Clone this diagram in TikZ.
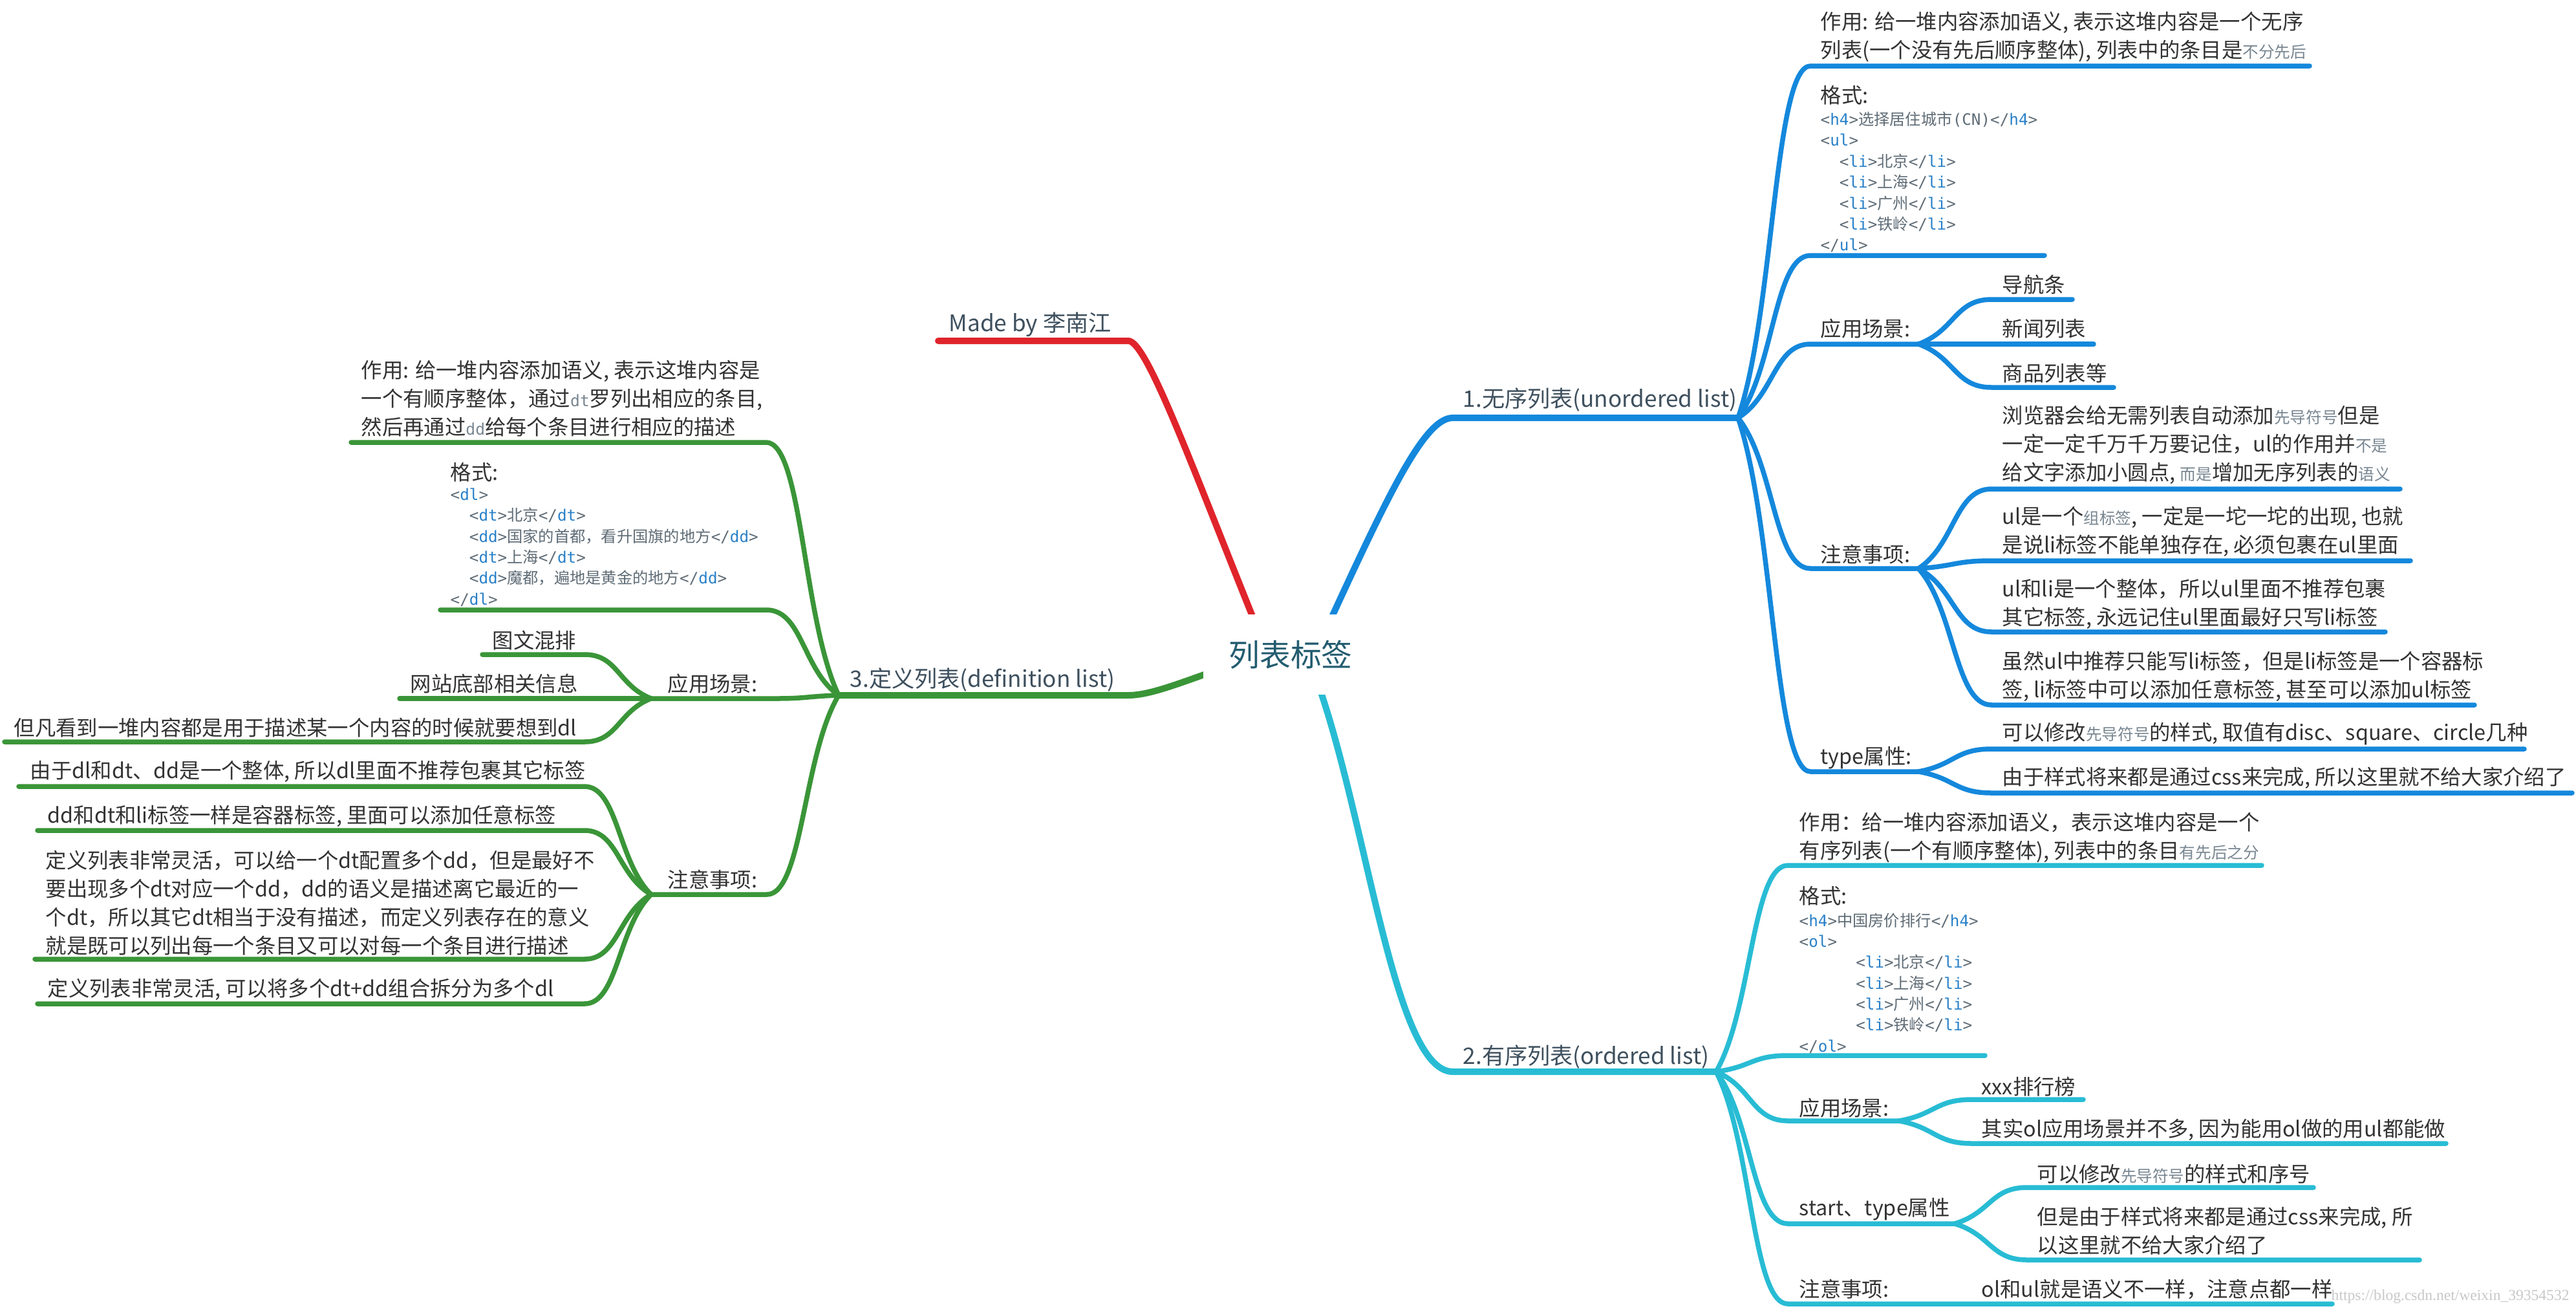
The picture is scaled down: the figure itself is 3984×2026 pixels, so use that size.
\documentclass[tikz,border=0pt]{standalone}
\usepackage{fontspec}
\setmainfont{Noto Sans CJK SC}
\newfontfamily\monofont{DejaVu Sans Mono}
\newfontfamily\wmfont{Liberation Serif}
\usetikzlibrary{calc}
\pgfdeclarelayer{paper}
\pgfdeclarelayer{bglayer}
\pgfsetlayers{paper,bglayer,main}
\definecolor{cred}{RGB}{224,36,43}
\definecolor{cblue}{RGB}{20,136,220}
\definecolor{ccyan}{RGB}{40,188,212}
\definecolor{cgreen}{RGB}{58,149,56}
\definecolor{ctext}{RGB}{51,51,51}
\definecolor{clabel}{RGB}{62,80,94}
\definecolor{ccenter}{RGB}{35,92,112}
\definecolor{sgray}{RGB}{120,134,145}
\definecolor{kwblue}{RGB}{40,128,200}
\definecolor{cdgray}{RGB}{95,108,118}
\definecolor{wmgray}{RGB}{200,200,200}
\newcommand\sg[1]{{\fontsize{7}{7}\selectfont\color{sgray}#1}}
\newcommand\sm[1]{{\monofont\fontsize{7}{7}\selectfont\color{sgray}#1}}
\newcommand\tg[1]{{\monofont\color{cdgray}#1}}
\newcommand\kw[1]{{\monofont\color{kwblue}#1}}
\newcommand\ct[1]{{\color{cdgray}#1}}
\newcommand\ot[1]{\tg{<}\kw{#1}\tg{>}}
\newcommand\clt[1]{\tg{</}\kw{#1}\tg{>}}
% #1 style, #2 name, #3 parent, #4 attach point, #5 end point
\newcommand\branch[5]{\coordinate (#2a) at (#4);\coordinate (#2e) at (#5);
  \draw[#1] let \p1=(#3), \p2=(#2a) in (#3) .. controls ({0.5*\x1+0.5*\x2},{0.7*\y1+0.3*\y2}) and ({0.5*\x1+0.5*\x2},\y2) .. (#2a) -- (#2e);}
\tikzset{
  mainln/.style={line width=1mm, line cap=round, line join=round},
  subln/.style={line width=0.75mm, line cap=round, line join=round},
  txt/.style={inner sep=0pt, anchor=west, text=ctext, font=\fontsize{9.2}{12.5}\selectfont, align=left},
  codetxt/.style={inner sep=0pt, anchor=west, font=\fontsize{6.9}{9.2}\selectfont, align=left},
  lbl/.style={inner sep=0pt, anchor=west, text=clabel, font=\fontsize{10}{12}\selectfont},
}
\begin{document}
\begin{tikzpicture}[x=0.01cm,y=-0.01cm]
\useasboundingbox (0,0) rectangle (3984,2026);
\begin{pgfonlayer}{paper}
\fill[white] (0,0) rectangle (3984,2026);
\end{pgfonlayer}

% central topic
\node[fill=white, inner sep=0pt, minimum width=2.7cm, minimum height=1.24cm, text=ccenter, font=\fontsize{13.6}{16}\selectfont] (ctr) at (1996,1012) {列表标签};

% ---------- main branch labels ----------
\node[lbl] (r0) at (1467,502) {Made by 李南江};
\node[lbl] (b0) at (2262,618) {1.无序列表(unordered list)};
\node[lbl] (c0) at (2262,1634) {2.有序列表(ordered list)};
\node[lbl] (g0) at (1314,1051) {3.定义列表(definition list)};

\coordinate (r0a) at (1745,527); \coordinate (r0e) at (1451,527);
\coordinate (b0a) at (2247,646); \coordinate (bh) at (2688,646);
\coordinate (c0a) at (2247,1657); \coordinate (ch) at (2654,1657);
\coordinate (g0a) at (1745,1075); \coordinate (gh) at (1297,1075);

% ---------- blue texts ----------
\node[txt] (b1) at (2815,56.5) {作用: 给一堆内容添加语义, 表示这堆内容是一个无序\\列表(一个没有先后顺序整体), 列表中的条目是\sg{不分先后}};
\node[txt] (b2) at (2815,147) {格式:};
\node[codetxt] (b2c) at (2815,281.5) {\ot{h4}\ct{选择居住城市}\tg{(CN)}\clt{h4}\\
\ot{ul}\\
\hspace*{8.3pt}\ot{li}\ct{北京}\clt{li}\\
\hspace*{8.3pt}\ot{li}\ct{上海}\clt{li}\\
\hspace*{8.3pt}\ot{li}\ct{广州}\clt{li}\\
\hspace*{8.3pt}\ot{li}\ct{铁岭}\clt{li}\\
\clt{ul}};
\node[txt] (b3) at (2815,508) {应用场景:};
\node[txt] (b31) at (3096,440) {导航条};
\node[txt] (b32) at (3096,508) {新闻列表};
\node[txt] (b33) at (3096,577) {商品列表等};
\node[txt] (b4) at (2815,857) {注意事项:};
\node[txt] (b41) at (3096,687.5) {浏览器会给无需列表自动添加\sg{先导符号}但是\\一定一定千万千万要记住，ul的作用并\sg{不是}\\给文字添加小圆点, \sg{而是}增加无序列表的\sg{语义}};
\node[txt] (b42) at (3096,821.5) {ul是一个\sg{组标签}, 一定是一坨一坨的出现, 也就\\是说li标签不能单独存在, 必须包裹在ul里面};
\node[txt] (b43) at (3096,933.5) {ul和li是一个整体，所以ul里面不推荐包裹\\其它标签, 永远记住ul里面最好只写li标签};
\node[txt] (b44) at (3096,1046) {虽然ul中推荐只能写li标签，但是li标签是一个容器标\\签, li标签中可以添加任意标签, 甚至可以添加ul标签};
\node[txt] (b5) at (2815,1172) {type属性:};
\node[txt] (b51) at (3096,1135) {可以修改\sg{先导符号}的样式, 取值有disc、square、circle几种};
\node[txt] (b52) at (3096,1203) {由于样式将来都是通过css来完成, 所以这里就不给大家介绍了};

% ---------- cyan texts ----------
\node[txt] (c1) at (2782,1295) {作用：给一堆内容添加语义，表示这堆内容是一个\\有序列表(一个有顺序整体), 列表中的条目\sg{有先后之分}};
\node[txt] (c2) at (2782,1385) {格式:};
\node[codetxt] (c2c) at (2782,1520) {\ot{h4}\ct{中国房价排行}\clt{h4}\\
\ot{ol}\\
\hspace*{24.9pt}\ot{li}\ct{北京}\clt{li}\\
\hspace*{24.9pt}\ot{li}\ct{上海}\clt{li}\\
\hspace*{24.9pt}\ot{li}\ct{广州}\clt{li}\\
\hspace*{24.9pt}\ot{li}\ct{铁岭}\clt{li}\\
\clt{ol}};
\node[txt] (c3) at (2782,1713) {应用场景:};
\node[txt] (c31) at (3064,1680) {xxx排行榜};
\node[txt] (c32) at (3064,1747) {其实ol应用场景并不多, 因为能用ol做的用ul都能做};
\node[txt] (c4) at (2782,1870) {start、type属性};
\node[txt] (c41) at (3150,1815) {可以修改\sg{先导符号}的样式和序号};
\node[txt] (c42) at (3150,1903.5) {但是由于样式将来都是通过css来完成, 所\\以这里就不给大家介绍了};
\node[txt] (c5) at (2782,1993) {注意事项:};
\node[txt] (c51) at (3064,1993) {ol和ul就是语义不一样，注意点都一样};

% ---------- green texts ----------
\node[txt] (g1) at (558,616.5) {作用: 给一堆内容添加语义, 表示这堆内容是\\一个有顺序整体，通过\sm{dt}罗列出相应的条目,\\然后再通过\sm{dd}给每个条目进行相应的描述};
\node[txt] (g2) at (696,730) {格式:};
\node[codetxt] (g2c) at (696,846) {\ot{dl}\\
\hspace*{8.3pt}\ot{dt}\ct{北京}\clt{dt}\\
\hspace*{8.3pt}\ot{dd}\ct{国家的首都，看升国旗的地方}\clt{dd}\\
\hspace*{8.3pt}\ot{dt}\ct{上海}\clt{dt}\\
\hspace*{8.3pt}\ot{dd}\ct{魔都，遍地是黄金的地方}\clt{dd}\\
\clt{dl}};
\node[txt] (g3) at (1032,1057) {应用场景:};
\node[txt] (g31) at (761,990) {图文混排};
\node[txt] (g32) at (634,1057) {网站底部相关信息};
\node[txt] (g33) at (21,1125) {但凡看到一堆内容都是用于描述某一个内容的时候就要想到dl};
\node[txt] (g4) at (1032,1360) {注意事项:};
\node[txt] (g41) at (46,1193) {由于dl和dt、dd是一个整体, 所以dl里面不推荐包裹其它标签};
\node[txt] (g42) at (73,1262) {dd和dt和li标签一样是容器标签, 里面可以添加任意标签};
\node[txt] (g43) at (70,1396) {定义列表非常灵活，可以给一个dt配置多个dd，但是最好不\\要出现多个dt对应一个dd，dd的语义是描述离它最近的一\\个dt，所以其它dt相当于没有描述，而定义列表存在的意义\\就是既可以列出每一个条目又可以对每一个条目进行描述};
\node[txt] (g44) at (73,1530) {定义列表非常灵活, 可以将多个dt+dd组合拆分为多个dl};

% watermark
\node[anchor=west, inner sep=0pt, font=\wmfont\fontsize{6.7}{8}\selectfont, text=wmgray] (wm) at (3605,2005) {https://blog.csdn.net/weixin\_39354532};

% ---------- connectors ----------
\begin{pgfonlayer}{bglayer}
\draw[mainln,cred] ($(ctr.center)+(-35,0)$) .. controls (1850,740) and (1775,527) .. (r0a) -- (r0e);
\draw[mainln,cblue] ($(ctr.center)+(37,0)$) .. controls (2140,780) and (2200,646) .. (b0a) -- (bh);
\draw[mainln,ccyan] ($(ctr.center)+(25,0)$) .. controls (2110,1220) and (2150,1657) .. (c0a) -- (ch);
\draw[mainln,cgreen] ($(ctr.center)+(-40,0)$) .. controls (1860,1040) and (1790,1075) .. (g0a) -- (gh);

% blue
\branch{subln,cblue}{b1}{bh}{2800,102}{3572,102}
\branch{subln,cblue}{b2}{bh}{2800,395}{3162,395}
\branch{subln,cblue}{b3}{bh}{2800,532}{2967,532}
\branch{subln,cblue}{b31}{b3e}{3080,463}{3205,463}
\branch{subln,cblue}{b32}{b3e}{3080,532}{3238,532}
\branch{subln,cblue}{b33}{b3e}{3080,599}{3269,599}
\branch{subln,cblue}{b4}{bh}{2800,879}{2967,879}
\branch{subln,cblue}{b41}{b4e}{3080,756}{3712,756}
\branch{subln,cblue}{b42}{b4e}{3080,867}{3728,867}
\branch{subln,cblue}{b43}{b4e}{3080,977}{3689,977}
\branch{subln,cblue}{b44}{b4e}{3080,1090}{3827,1090}
\branch{subln,cblue}{b5}{bh}{2800,1193}{2967,1193}
\branch{subln,cblue}{b51}{b5e}{3080,1158}{3904,1158}
\branch{subln,cblue}{b52}{b5e}{3080,1226}{3978,1226}

% cyan
\branch{subln,ccyan}{c1}{ch}{2765,1338}{3498,1338}
\branch{subln,ccyan}{c2}{ch}{2765,1632}{3070,1632}
\branch{subln,ccyan}{c3}{ch}{2765,1733}{2937,1733}
\branch{subln,ccyan}{c31}{c3e}{3050,1700}{3222,1700}
\branch{subln,ccyan}{c32}{c3e}{3050,1768}{3783,1768}
\branch{subln,ccyan}{c4}{ch}{2765,1892}{3023,1892}
\branch{subln,ccyan}{c41}{c4e}{3135,1836}{3578,1836}
\branch{subln,ccyan}{c42}{c4e}{3135,1948}{3742,1948}
\branch{subln,ccyan}{c5}{ch}{2765,2016}{3607,2016}

% green
\branch{subln,cgreen}{g1}{gh}{1185,684}{543,684}
\branch{subln,cgreen}{g2}{gh}{1185,943}{681,943}
\branch{subln,cgreen}{g3}{gh}{1200,1080}{1007,1080}
\branch{subln,cgreen}{g31}{g3e}{904,1012}{746,1012}
\branch{subln,cgreen}{g32}{g3e}{904,1080}{618,1080}
\branch{subln,cgreen}{g33}{g3e}{904,1147}{7,1147}
\branch{subln,cgreen}{g4}{gh}{1186,1383}{1007,1383}
\branch{subln,cgreen}{g41}{g4e}{904,1216}{29,1216}
\branch{subln,cgreen}{g42}{g4e}{904,1284}{58,1284}
\branch{subln,cgreen}{g43}{g4e}{904,1483}{54,1483}
\branch{subln,cgreen}{g44}{g4e}{904,1552}{58,1552}
\end{pgfonlayer}
\end{tikzpicture}
\end{document}
